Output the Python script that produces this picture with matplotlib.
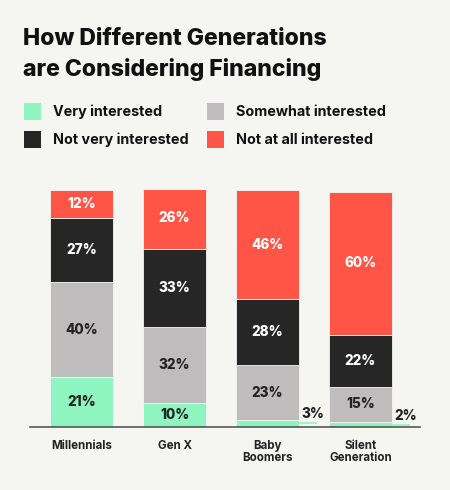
import matplotlib.pyplot as plt
from matplotlib.patches import Rectangle

# data, bottom of stack first
generations = ["Millennials", "Gen X", "Baby\nBoomers", "Silent\nGeneration"]
very_interested = [21, 10, 3, 2]
somewhat_interested = [40, 32, 23, 15]
not_very_interested = [27, 33, 28, 22]
not_at_all_interested = [12, 26, 46, 60]

series = [
    ("Very interested", very_interested, "#8ef5c0", "#222222"),
    ("Somewhat interested", somewhat_interested, "#bebcbc", "#222222"),
    ("Not very interested", not_very_interested, "#262626", "white"),
    ("Not at all interested", not_at_all_interested, "#fe5546", "white"),
]

bg = "#f5f5f2"
plt.rcParams["font.family"] = ["Inter", "DejaVu Sans"]

fig = plt.figure(figsize=(4.5, 4.9), dpi=100, facecolor=bg)
W, H = 450, 490

# axes placed in pixel terms: x 30..420, y 190..427
ax = fig.add_axes([30 / W, (H - 427) / H, 390 / W, 237 / H])
ax.set_facecolor(bg)

x = list(range(len(generations)))
width = 0.68
bottoms = [0] * len(generations)
for name, vals, color, txt_color in series:
    ax.bar(x, vals, width=width, bottom=bottoms, color=color, edgecolor=bg, linewidth=0.6)
    for i, v in enumerate(vals):
        if v >= 5:
            ax.text(i, bottoms[i] + v / 2, f"{v}%", ha="center", va="center",
                    color=txt_color, fontsize=9.8, fontweight="heavy")
        else:
            # small slice: leader line out to the right and label above it
            xr = i + width / 2
            ax.plot([xr, xr + 0.19], [v / 2, v / 2], color=color, lw=1.2,
                    solid_capstyle="butt", clip_on=False)
            ax.annotate(f"{v}%", (xr + 0.15, v / 2), xytext=(0, 1.5),
                        textcoords="offset points", ha="center", va="bottom",
                        color="#222222", fontsize=9.8, fontweight="heavy")
    bottoms = [b + v for b, v in zip(bottoms, vals)]

ax.set_xlim(-0.554, 3.64)
ax.set_ylim(0, 100)
ax.set_xticks(x)
ax.set_xticklabels(generations, fontsize=8.3, fontweight="bold", color="#222222",
                   linespacing=1.1)
ax.tick_params(axis="x", length=0, pad=9)
ax.set_yticks([])
for s in ["top", "left", "right"]:
    ax.spines[s].set_visible(False)
ax.spines["bottom"].set_color("#4a4a4a")
ax.spines["bottom"].set_linewidth(1.1)

# title
fig.text(23 / W, 1 - 28 / H, "How Different Generations\nare Considering Financing",
         ha="left", va="top", fontsize=16.6, fontweight="heavy", color="#111111",
         linespacing=1.45)

# legend drawn by hand, two columns
legend_pos = {
    "Very interested": (24, 103),
    "Not very interested": (24, 131),
    "Somewhat interested": (207, 103),
    "Not at all interested": (207, 131),
}
for name, vals, color, txt_color in series:
    lx, ly = legend_pos[name]
    fig.add_artist(Rectangle((lx / W, 1 - (ly + 17) / H), 17 / W, 17 / H,
                             transform=fig.transFigure, facecolor=color,
                             edgecolor="none"))
    fig.text((lx + 29) / W, 1 - (ly + 8.5) / H, name, ha="left", va="center",
             fontsize=10.3, fontweight="bold", color="#111111")

fig.savefig("out.png", dpi=100, facecolor=bg)
